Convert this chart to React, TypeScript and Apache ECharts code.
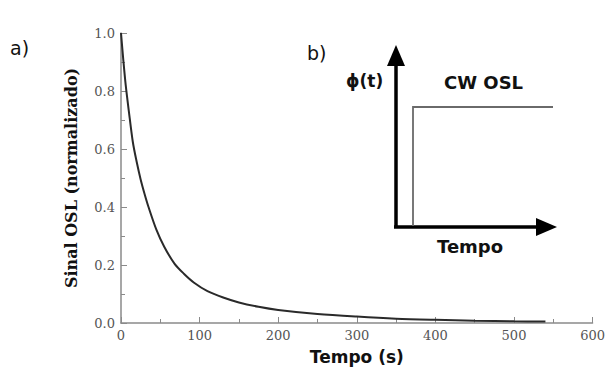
import React, { useEffect, useRef } from "react";
import * as echarts from "echarts";

const times = [0, 3, 6, 10, 15, 20, 25, 30, 35, 45, 55, 68, 80, 93, 110, 130, 150, 175, 200, 250, 300, 350, 400, 450, 500, 540];
const signal = [1.0, 0.905, 0.82, 0.73, 0.625, 0.555, 0.495, 0.445, 0.4, 0.322, 0.263, 0.205, 0.17, 0.139, 0.11, 0.088, 0.071, 0.056, 0.045, 0.031, 0.022, 0.015, 0.011, 0.008, 0.006, 0.005];

const xTitle = "Tempo (s)";
const yTitle = "Sinal OSL (normalizado)";
const panelA = "a)";
const panelB = "b)";
const insetY = "ϕ(t)";
const insetTitle = "CW OSL";
const insetX = "Tempo";

export default function App() {
  const ref = useRef<HTMLDivElement>(null);
  useEffect(() => {
    if (!ref.current) return;
    const chart = echarts.init(ref.current, null, { renderer: "svg" });
    const axisColor = "#8a8a8a";
    const labelStyle = { color: "#555", fontFamily: "DejaVu Serif", fontSize: 13 };
    chart.setOption({
      animation: false,
      backgroundColor: "#fff",
      grid: { left: 121, right: 13, top: 33, bottom: 49, containLabel: false },
      xAxis: {
        type: "value",
        min: 0,
        max: 600,
        interval: 100,
        name: xTitle,
        nameLocation: "middle",
        nameGap: 25,
        nameTextStyle: { fontFamily: "DejaVu Sans", fontWeight: "bold", fontSize: 17, color: "#111" },
        axisLine: { lineStyle: { color: axisColor, width: 1.5 } },
        axisTick: { inside: true, length: 6, lineStyle: { color: axisColor } },
        minorTick: { show: true, splitNumber: 2, length: 4, lineStyle: { color: axisColor } },
        axisLabel: { ...labelStyle, margin: 6 },
        splitLine: { show: false },
      },
      yAxis: {
        type: "value",
        min: 0,
        max: 1,
        interval: 0.2,
        name: yTitle,
        nameLocation: "middle",
        nameGap: 42,
        nameTextStyle: { fontFamily: "DejaVu Serif", fontWeight: "bold", fontSize: 16, color: "#111" },
        axisLine: { show: true, lineStyle: { color: axisColor, width: 1.5 } },
        axisTick: { show: true, inside: true, length: 6, lineStyle: { color: axisColor } },
        minorTick: { show: true, splitNumber: 2, length: 4, lineStyle: { color: axisColor } },
        axisLabel: { ...labelStyle, margin: 6, formatter: (v: number) => v.toFixed(1) },
        splitLine: { show: false },
      },
      series: [
        {
          type: "line",
          data: times.map((t, i) => [t, signal[i]]),
          smooth: 0.3,
          showSymbol: false,
          symbol: "none",
          lineStyle: { color: "#2a2a2a", width: 2 },
        },
      ],
      graphic: [
        { type: "text", left: 10, top: 38, style: { text: panelA, fontFamily: "DejaVu Sans", fontSize: 19, fill: "#111" } },
        { type: "text", left: 307, top: 43, style: { text: panelB, fontFamily: "DejaVu Sans", fontSize: 19, fill: "#111" } },
        { type: "line", shape: { x1: 396, y1: 228, x2: 396, y2: 62 }, style: { stroke: "#000", lineWidth: 3.5 } },
        { type: "polygon", shape: { points: [[396, 45], [387, 66], [405, 66]] }, style: { fill: "#000" } },
        { type: "line", shape: { x1: 394, y1: 227, x2: 540, y2: 227 }, style: { stroke: "#000", lineWidth: 3.5 } },
        { type: "polygon", shape: { points: [[557, 227], [536, 218], [536, 236]] }, style: { fill: "#000" } },
        { type: "polyline", shape: { points: [[413, 226], [413, 107], [553, 107]] }, style: { stroke: "#6a6a6a", lineWidth: 1.8, fill: null } },
        { type: "text", left: 346, top: 72, style: { text: insetY, fontFamily: "DejaVu Sans", fontWeight: "bold", fontSize: 17, fill: "#111" } },
        { type: "text", left: 444, top: 73, style: { text: insetTitle, fontFamily: "DejaVu Sans", fontWeight: "bold", fontSize: 18, fill: "#111" } },
        { type: "text", left: 437, top: 237, style: { text: insetX, fontFamily: "DejaVu Sans", fontWeight: "bold", fontSize: 18, fill: "#111" } },
      ],
    });
    return () => chart.dispose();
  }, []);
  return <div ref={ref} style={{ width: 608, height: 372, position: "absolute", left: 0, top: 0 }} />;
}
